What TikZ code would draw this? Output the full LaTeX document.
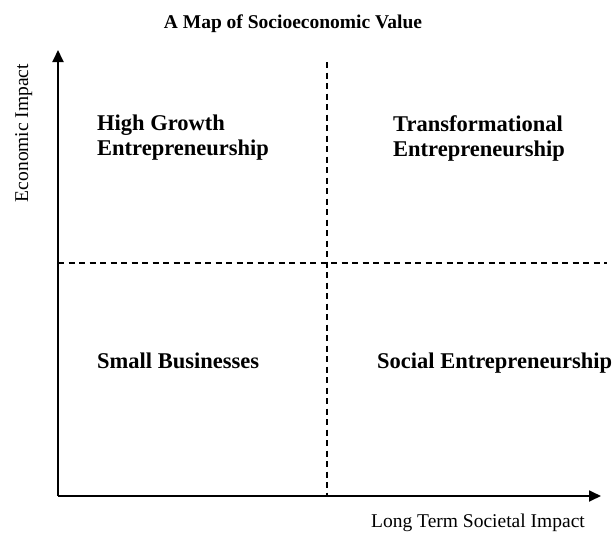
\documentclass[tikz,border=0pt]{standalone}
\usepackage{fontspec}
\setmainfont{Liberation Serif}
\usepackage{tikz}
\usetikzlibrary{
    arrows.meta,
    positioning
}

\tikzset{
    axis/.style={line width=1.8pt, -{Triangle[length=12pt, width=11pt]}},
    split/.style={line width=1.1pt, dash pattern=on 6pt off 4.5pt},
    quad/.style={anchor=base west, inner sep=0pt, font=\fontsize{22.5}{25}\selectfont\bfseries},
    axislabel/.style={anchor=base, inner sep=0pt, font=\fontsize{19.5}{22}\selectfont}
}

\begin{document}
\begin{tikzpicture}[x=1pt, y=-1pt]
                                \useasboundingbox (0, 0) rectangle (614, 533);
                                \node[anchor=base, inner sep=0pt, font=\fontsize{19.5}{22}\selectfont\bfseries] (title) at (293, 28) {A Map of Socioeconomic Value};
                                \coordinate (o) at (58, 496);
                                \coordinate (ytip) at (58, 50);
                                \coordinate (xtip) at (601, 496);
                                \coordinate (vtop) at (327, 62);
                                \coordinate (vbot) at (327, 496);
                                \coordinate (hleft) at (58, 263);
                                \coordinate (hright) at (607, 263);
                                \node[axislabel, rotate=90] (econ) at (28, 133) {Economic Impact};
                                \node[axislabel] (soc) at (478, 527) {Long Term Societal Impact};
                                \node[quad] (hg) at (97, 130) {High Growth};
                                \node[quad] (hge) at (97, 155) {Entrepreneurship};
                                \node[quad] (tr) at (393, 131) {Transformational};
                                \node[quad] (tre) at (393, 156) {Entrepreneurship};
                                \node[quad] (sb) at (97, 368) {Small Businesses};
                                \node[quad] (se) at (377, 368) {Social Entrepreneurship};
                                \draw
                                (vtop) edge[split] (vbot)
                                (hleft) edge[split] (hright)
                                (o) edge[axis] (ytip)
                                (o) edge[axis] (xtip);
                            \end{tikzpicture}
\end{document}
